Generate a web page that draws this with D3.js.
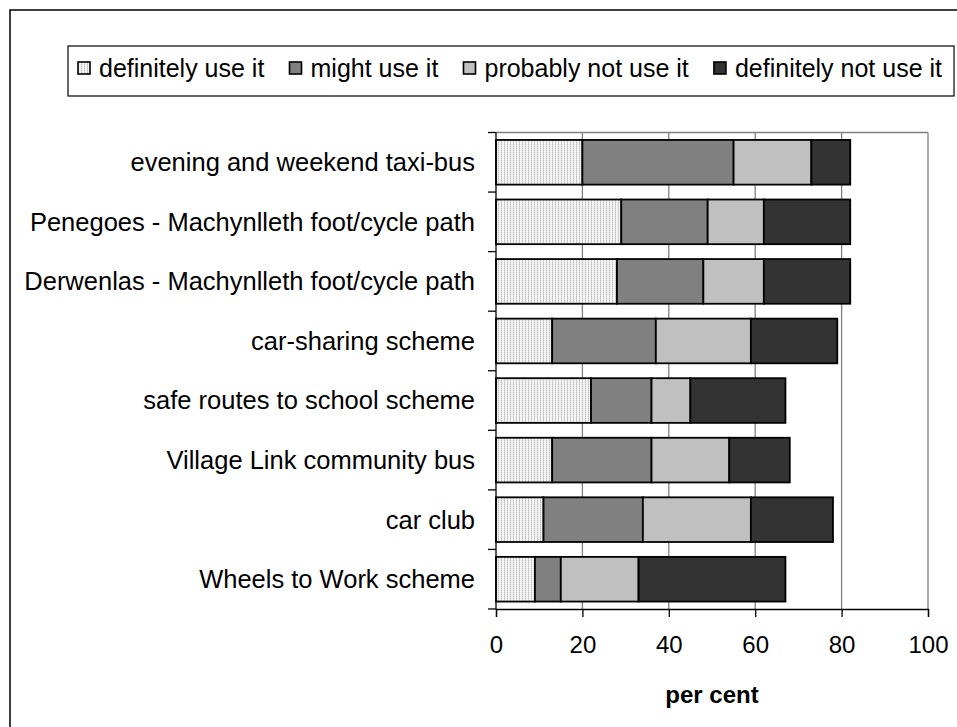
<!DOCTYPE html>
<html>
<head>
<meta charset="utf-8">
<script src="https://cdn.jsdelivr.net/npm/d3@7"></script>
<style>
  html, body { margin: 0; padding: 0; background: #fff; }
  svg { display: block; }
  text { font-family: "Liberation Sans", Arial, sans-serif; fill: #000; }
</style>
</head>
<body>
<svg id="chart" width="957" height="727"></svg>
<script>
// ---- data ----
const categories = [
  "evening and weekend taxi-bus",
  "Penegoes - Machynlleth foot/cycle path",
  "Derwenlas - Machynlleth foot/cycle path",
  "car-sharing scheme",
  "safe routes to school scheme",
  "Village Link community bus",
  "car club",
  "Wheels to Work scheme"
];
const seriesNames = ["definitely use it", "might use it", "probably not use it", "definitely not use it"];
const definitelyUse    = [20, 29, 28, 13, 22, 13, 11, 9];
const mightUse         = [35, 20, 20, 24, 14, 23, 23, 6];
const probablyNotUse   = [18, 13, 14, 22, 9, 18, 25, 18];
const definitelyNotUse = [9, 20, 20, 20, 22, 14, 19, 34];
const xTicks = [0, 20, 40, 60, 80, 100];
const xLabel = "per cent";

const seriesValues = [definitelyUse, mightUse, probablyNotUse, definitelyNotUse];
const fills = ["url(#dots)", "#808080", "#c0c0c0", "#333333"];

const svg = d3.select("#chart");

// pattern for first series
const defs = svg.append("defs");
const pat = defs.append("pattern").attr("id", "dots")
  .attr("width", 3).attr("height", 2).attr("patternUnits", "userSpaceOnUse");
pat.append("rect").attr("width", 3).attr("height", 2).attr("fill", "#f4f4f4");
pat.append("rect").attr("width", 1).attr("height", 2).attr("fill", "#d4d4d4");
pat.append("rect").attr("width", 1).attr("height", 1).attr("fill", "#c0c0c0");

// outer border
svg.append("rect").attr("x", 10).attr("y", 10).attr("width", 970).attr("height", 740)
  .attr("fill", "none").attr("stroke", "#000").attr("stroke-width", 1.5);

const plotL = 496, plotR = 928, plotT = 132.5, plotB = 609;
const x = d3.scaleLinear().domain([0, 100]).range([plotL, plotR]);
const y = d3.scaleBand().domain(categories).range([plotT, plotB])
  .paddingInner(0.25).paddingOuter(0.125);

// stacked data
const rows = categories.map((c, i) => {
  const o = { cat: c };
  seriesNames.forEach((s, k) => o[s] = seriesValues[k][i]);
  return o;
});
const stacked = d3.stack().keys(seriesNames)(rows);

// gridlines
svg.append("g").selectAll("line").data(xTicks.slice(1)).join("line")
  .attr("x1", d => x(d)).attr("x2", d => x(d))
  .attr("y1", plotT).attr("y2", plotB)
  .attr("stroke", "#808080").attr("stroke-width", 1.3);
// top border of plot area
svg.append("line").attr("x1", plotL).attr("x2", plotR).attr("y1", plotT).attr("y2", plotT)
  .attr("stroke", "#808080").attr("stroke-width", 1.3);

// bars
const bars = svg.append("g");
stacked.forEach((layer, k) => {
  bars.append("g").selectAll("rect").data(layer).join("rect")
    .attr("x", d => x(d[0]))
    .attr("width", d => x(d[1]) - x(d[0]))
    .attr("y", d => y(d.data.cat))
    .attr("height", y.bandwidth())
    .attr("fill", fills[k])
    .attr("stroke", "#000").attr("stroke-width", 1.8);
});

// y axis
const step = y.step();
const yBounds = d3.range(categories.length + 1).map(i => plotT + i * step);
svg.append("line").attr("x1", plotL).attr("x2", plotL).attr("y1", plotT).attr("y2", plotB)
  .attr("stroke", "#000").attr("stroke-width", 1.3);
svg.append("g").selectAll("line").data(yBounds).join("line")
  .attr("x1", plotL - 8).attr("x2", plotL).attr("y1", d => d).attr("y2", d => d)
  .attr("stroke", "#000").attr("stroke-width", 1.3);
svg.append("g").selectAll("text").data(categories).join("text")
  .attr("x", 475).attr("y", d => y(d) + y.bandwidth() / 2)
  .attr("dy", "0.35em").attr("text-anchor", "end")
  .attr("font-size", 25.5).text(d => d);

// x axis
const xAxis = d3.axisBottom(x).tickValues(xTicks).tickSize(8).tickPadding(19);
const gx = svg.append("g").attr("transform", `translate(0,${plotB})`).call(xAxis);
gx.select(".domain").attr("stroke", "#000").attr("stroke-width", 1.3);
gx.selectAll(".tick line").attr("stroke", "#000").attr("stroke-width", 1.3);
gx.selectAll(".tick text").attr("font-size", 24)
  .attr("font-family", "Liberation Sans, Arial, sans-serif").attr("fill", "#000");

svg.append("text").attr("x", (plotL + plotR) / 2).attr("y", 703)
  .attr("text-anchor", "middle").attr("font-weight", "bold").attr("font-size", 24)
  .text(xLabel);

// legend
svg.append("rect").attr("x", 68).attr("y", 46).attr("width", 886).attr("height", 50)
  .attr("fill", "#fff").attr("stroke", "#000").attr("stroke-width", 1.2);
const lg = svg.append("g");
const items = seriesNames.map((s, k) => {
  const g = lg.append("g");
  g.append("rect").attr("width", 12).attr("height", 12).attr("y", -6)
    .attr("fill", fills[k]).attr("stroke", "#000").attr("stroke-width", 1.6);
  const t = g.append("text").attr("x", 21).attr("dy", "0.35em")
    .attr("font-size", 25).text(s);
  return { g, w: 21 + t.node().getComputedTextLength() };
});
const startX = 78, endX = 942;
const totalW = d3.sum(items, d => d.w);
const gap = (endX - startX - totalW) / (items.length - 1);
let cx = startX;
items.forEach(it => {
  it.g.attr("transform", `translate(${cx},68)`);
  cx += it.w + gap;
});
</script>
</body>
</html>
